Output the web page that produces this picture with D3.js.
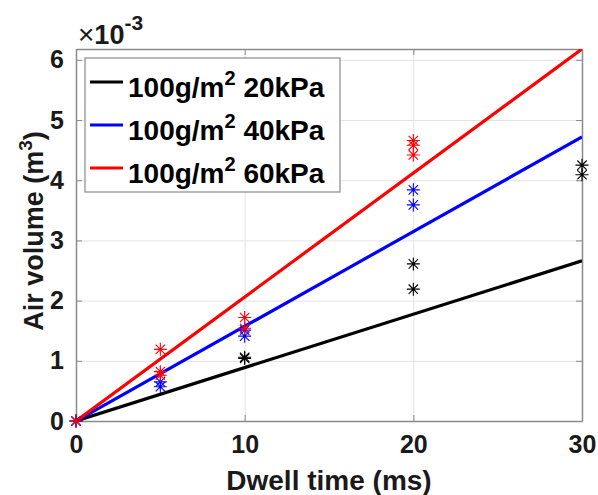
<!DOCTYPE html>
<html>
<head>
<meta charset="utf-8">
<script src="https://cdn.jsdelivr.net/npm/d3@7"></script>
<style>
  body { margin: 0; background: #fff; }
  text { font-family: "Liberation Sans", Arial, sans-serif; font-weight: bold; }
</style>
</head>
<body>
<div id="chart"></div>
<script>
// ticks
const dwellTicks = [0, 10, 20, 30];
const volumeTicks = [0, 1, 2, 3, 4, 5, 6];

// legend / series
const seriesLabels = ["20kPa", "40kPa", "60kPa"];
const seriesColors = ["#000000", "#0000ff", "#ff0000"];

// fitted lines: value at 0 ms and at 30 ms (x 10^-3 m^3)
const fitX = [0, 30];
const fit20 = [0, 2.66];
const fit40 = [0, 4.72];
const fit60 = [0, 6.18];

// measured points (x 10^-3 m^3)
const pts20x = [0, 10, 10, 20, 20, 30, 30];
const pts20y = [0, 1.04, 1.06, 2.61, 2.19, 4.25, 4.09];
const pts40x = [0, 5, 5, 10, 10, 20, 20];
const pts40y = [0, 0.65, 0.57, 1.51, 1.41, 3.84, 3.59];
const pts60x = [0, 5, 5, 5, 10, 10, 20, 20, 20];
const pts60y = [0, 1.19, 0.82, 0.76, 1.72, 1.54, 4.66, 4.58, 4.42];

const width = 598, height = 495;
const marginLeft = 76, marginRight = 16, marginTop = 49, marginBottom = 74;

const x = d3.scaleLinear().domain([0, 30]).range([marginLeft, width - marginRight]);
const y = d3.scaleLinear().domain([0, 6.18]).range([height - marginBottom, marginTop]);

const svg = d3.select("#chart").append("svg")
    .attr("width", width)
    .attr("height", height);

// grid
svg.append("g")
    .attr("transform", `translate(0,${height - marginBottom})`)
    .call(d3.axisBottom(x).tickValues(dwellTicks).tickSize(-(height - marginTop - marginBottom)).tickFormat(""))
    .call(g => g.select(".domain").remove())
    .call(g => g.selectAll("line").attr("stroke", "#e3e3e3"));
svg.append("g")
    .attr("transform", `translate(${marginLeft},0)`)
    .call(d3.axisLeft(y).tickValues(volumeTicks).tickSize(-(width - marginLeft - marginRight)).tickFormat(""))
    .call(g => g.select(".domain").remove())
    .call(g => g.selectAll("line").attr("stroke", "#e3e3e3"));

// box + inward ticks
const axisColor = "#8a8a8a";
function styleAxis(g) {
    g.select(".domain").attr("stroke", axisColor).attr("stroke-width", 1.5);
    g.selectAll("line").attr("stroke", axisColor);
    g.selectAll("text").attr("fill", "#1a1a1a").style("font-size", "25px");
}
svg.append("g")
    .attr("transform", `translate(0,${height - marginBottom})`)
    .call(d3.axisBottom(x).tickValues(dwellTicks).tickFormat(d3.format("d")).tickSize(-6).tickSizeOuter(0).tickPadding(14))
    .call(styleAxis);
svg.append("g")
    .attr("transform", `translate(0,${marginTop})`)
    .call(d3.axisTop(x).tickValues(dwellTicks).tickSize(-6).tickSizeOuter(0).tickFormat(""))
    .call(styleAxis);
svg.append("g")
    .attr("transform", `translate(${marginLeft},0)`)
    .call(d3.axisLeft(y).tickValues(volumeTicks).tickFormat(d3.format("d")).tickSize(-6).tickSizeOuter(0).tickPadding(12))
    .call(styleAxis);
svg.append("g")
    .attr("transform", `translate(${width - marginRight},0)`)
    .call(d3.axisRight(y).tickValues(volumeTicks).tickSize(-6).tickSizeOuter(0).tickFormat(""))
    .call(styleAxis);

// clip
svg.append("clipPath").attr("id", "clip")
    .append("rect")
    .attr("x", marginLeft).attr("y", marginTop)
    .attr("width", width - marginLeft - marginRight)
    .attr("height", height - marginTop - marginBottom);

const plot = svg.append("g").attr("clip-path", "url(#clip)");
const line = d3.line().x(d => x(d[0])).y(d => y(d[1]));

const fits = [fit20, fit40, fit60];
const ptsX = [pts20x, pts40x, pts60x];
const ptsY = [pts20y, pts40y, pts60y];

// asterisk marker
function star(g, cx, cy, color) {
    const r = 6.5, d = r * 0.72;
    const p = `M${cx - r},${cy}L${cx + r},${cy}M${cx},${cy - r}L${cx},${cy + r}` +
        `M${cx - d},${cy - d}L${cx + d},${cy + d}M${cx - d},${cy + d}L${cx + d},${cy - d}`;
    g.append("path").attr("d", p).attr("stroke", color).attr("stroke-width", 1.1).attr("fill", "none");
}

fits.forEach((f, i) => {
    plot.append("path")
        .datum(fitX.map((v, j) => [v, f[j]]))
        .attr("d", line)
        .attr("fill", "none")
        .attr("stroke", seriesColors[i])
        .attr("stroke-width", 3.2);
});
ptsX.forEach((xs, i) => {
    xs.forEach((v, j) => star(svg, x(v), y(ptsY[i][j]), seriesColors[i]));
});

// legend
const lg = svg.append("g");
lg.append("rect")
    .attr("x", 85).attr("y", 58).attr("width", 255).attr("height", 134)
    .attr("fill", "#fff").attr("stroke", "#8a8a8a").attr("stroke-width", 1.2);
seriesLabels.forEach((s, i) => {
    const ly = 82 + i * 43;
    lg.append("line")
        .attr("x1", 90).attr("x2", 123).attr("y1", ly).attr("y2", ly)
        .attr("stroke", seriesColors[i]).attr("stroke-width", 3.2);
    const t = lg.append("text")
        .attr("x", 128).attr("y", ly + 15)
        .attr("fill", "#000")
        .style("font-size", "28px");
    t.append("tspan").text("100g/m");
    t.append("tspan").attr("dy", -12).style("font-size", "20px").text("2");
    t.append("tspan").attr("dy", 12).text("\u00a0" + s);
});

// exponent
const ex = svg.append("text").attr("x", 78).attr("y", 44).attr("fill", "#1a1a1a").style("font-size", "27px");
ex.append("tspan").style("font-weight", "normal").style("font-size", "28px").text("\u00d7");
ex.append("tspan").text("10");
ex.append("tspan").attr("dy", -14).style("font-size", "21px").text("-3");

// axis labels
svg.append("text")
    .attr("x", (marginLeft + width - marginRight) / 2)
    .attr("y", 490)
    .attr("text-anchor", "middle")
    .attr("fill", "#1a1a1a")
    .style("font-size", "28px")
    .text("Dwell time (ms)");

const yl = svg.append("text")
    .attr("transform", `translate(43,231) rotate(-90)`)
    .attr("text-anchor", "middle")
    .attr("fill", "#1a1a1a")
    .style("font-size", "27px");
yl.append("tspan").text("Air volume (m");
yl.append("tspan").attr("dy", -11).style("font-size", "19px").text("3");
yl.append("tspan").attr("dy", 11).text(")");
</script>
</body>
</html>
